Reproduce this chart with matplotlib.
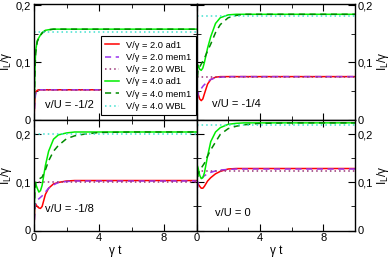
import matplotlib
matplotlib.use("Agg")
import matplotlib.pyplot as plt
from matplotlib.ticker import MultipleLocator, FuncFormatter

plt.rcParams['font.family'] = ['Liberation Sans', 'DejaVu Sans']

# time grid shared by all curves
t = [0, 0.05, 0.1, 0.2, 0.3, 0.4, 0.5, 0.7, 0.9, 1.2, 1.5, 2, 2.5, 3, 4, 6, 10]

panel_titles = ["v/U = -1/2", "v/U = -1/4", "v/U = -1/8", "v/U = 0"]

# v/U = -1/2
p1_ad1_v2 = [0, 0.035, 0.048, 0.051, 0.052, 0.052, 0.052, 0.052, 0.052, 0.052, 0.052, 0.052, 0.052, 0.052, 0.052, 0.052, 0.052]
p1_mem_v2 = [0, 0.030, 0.045, 0.050, 0.051, 0.052, 0.052, 0.052, 0.052, 0.052, 0.052, 0.052, 0.052, 0.052, 0.052, 0.052, 0.052]
p1_ad1_v4 = [0, 0.080, 0.120, 0.138, 0.143, 0.148, 0.152, 0.156, 0.157, 0.158, 0.158, 0.158, 0.158, 0.158, 0.158, 0.158, 0.158]
p1_mem_v4 = [0, 0.075, 0.115, 0.136, 0.142, 0.147, 0.151, 0.155, 0.157, 0.158, 0.158, 0.158, 0.158, 0.158, 0.158, 0.158, 0.158]
p1_wbl = [0.051, 0.153]

# v/U = -1/4
p2_ad1_v2 = [0, 0.050, 0.045, 0.036, 0.033, 0.036, 0.045, 0.062, 0.070, 0.074, 0.075, 0.075, 0.075, 0.075, 0.075, 0.075, 0.075]
p2_mem_v2 = [0, 0.030, 0.045, 0.050, 0.054, 0.058, 0.061, 0.066, 0.070, 0.073, 0.074, 0.075, 0.075, 0.075, 0.075, 0.075, 0.075]
p2_ad1_v4 = [0, 0.090, 0.095, 0.088, 0.086, 0.090, 0.100, 0.125, 0.145, 0.168, 0.178, 0.183, 0.184, 0.184, 0.184, 0.184, 0.184]
p2_mem_v4 = [0, 0.070, 0.088, 0.092, 0.097, 0.102, 0.107, 0.120, 0.132, 0.152, 0.166, 0.178, 0.182, 0.184, 0.184, 0.184, 0.184]
p2_wbl = [0.074, 0.181]

# v/U = -1/8
p3_ad1_v2 = [0, 0.056, 0.055, 0.050, 0.047, 0.046, 0.050, 0.075, 0.088, 0.097, 0.100, 0.103, 0.104, 0.104, 0.104, 0.104, 0.104]
p3_mem_v2 = [0, 0.040, 0.058, 0.063, 0.066, 0.069, 0.072, 0.080, 0.088, 0.095, 0.100, 0.102, 0.103, 0.103, 0.103, 0.103, 0.103]
p3_ad1_v4 = [0, 0.100, 0.097, 0.088, 0.080, 0.083, 0.094, 0.135, 0.165, 0.190, 0.199, 0.203, 0.205, 0.205, 0.205, 0.205, 0.205]
p3_mem_v4 = [0, 0.080, 0.098, 0.104, 0.107, 0.109, 0.111, 0.126, 0.145, 0.165, 0.177, 0.191, 0.197, 0.200, 0.204, 0.205, 0.205]
p3_wbl = [0.100, 0.200]

# v/U = 0
p4_ad1_v2 = [0, 0.098, 0.097, 0.092, 0.088, 0.088, 0.092, 0.103, 0.110, 0.118, 0.123, 0.128, 0.129, 0.129, 0.129, 0.129, 0.129]
p4_mem_v2 = [0, 0.080, 0.100, 0.106, 0.108, 0.111, 0.114, 0.118, 0.121, 0.124, 0.126, 0.127, 0.128, 0.128, 0.128, 0.128, 0.128]
p4_ad1_v4 = [0, 0.135, 0.130, 0.115, 0.108, 0.110, 0.120, 0.155, 0.185, 0.205, 0.214, 0.221, 0.223, 0.224, 0.224, 0.224, 0.224]
p4_mem_v4 = [0, 0.100, 0.118, 0.125, 0.130, 0.135, 0.140, 0.155, 0.168, 0.184, 0.200, 0.212, 0.217, 0.220, 0.223, 0.224, 0.224]
p4_wbl = [0.123, 0.219]

panels = [
    (p1_ad1_v2, p1_mem_v2, p1_ad1_v4, p1_mem_v4, p1_wbl),
    (p2_ad1_v2, p2_mem_v2, p2_ad1_v4, p2_mem_v4, p2_wbl),
    (p3_ad1_v2, p3_mem_v2, p3_ad1_v4, p3_mem_v4, p3_wbl),
    (p4_ad1_v2, p4_mem_v2, p4_ad1_v4, p4_mem_v4, p4_wbl),
]

fig = plt.figure(figsize=(3.9, 2.57), dpi=100)
L, M, R = 34 / 390, 196.5 / 390, 355 / 390
T, MID, B = 1 - 4 / 257, 1 - 119.5 / 257, 1 - 230.5 / 257
rects = [
    [L, MID, M - L, T - MID],
    [M, MID, R - M, T - MID],
    [L, B, M - L, MID - B],
    [M, B, R - M, MID - B],
]
ylims = [0.202, 0.202, 0.231, 0.231]
text_pos = [(0.07, 0.125), (0.1, 0.134), (0.07, 0.19), (0.117, 0.16)]

comma = FuncFormatter(lambda v, p: "0" if abs(v) < 1e-9 else ("%.1f" % v).replace(".", ","))

for i, (rect, data) in enumerate(zip(rects, panels)):
    ad1_v2, mem_v2, ad1_v4, mem_v4, wbl = data
    ax = fig.add_axes(rect)
    ax.plot(t, ad1_v2, color='#ff0000', lw=1.1, label="V/γ = 2.0 ad1")
    ax.plot(t, mem_v2, color='#9933ee', lw=1.1, ls=(0, (4, 3)), label="V/γ = 2.0 mem1")
    ax.plot([0, 10], [wbl[0], wbl[0]], color='#993377', lw=1.1, ls=(0, (1, 2)), label="V/γ = 2.0 WBL")
    ax.plot(t, ad1_v4, color='#00ee00', lw=1.1, label="V/γ = 4.0 ad1")
    ax.plot(t, mem_v4, color='#008b00', lw=1.1, ls=(0, (4, 3)), label="V/γ = 4.0 mem1")
    ax.plot([0, 10], [wbl[1], wbl[1]], color='#40e0d0', lw=1.1, ls=(0, (1, 2)), label="V/γ = 4.0 WBL")
    ax.set_xlim(0, 10)
    ax.set_ylim(0, ylims[i])
    ax.xaxis.set_major_locator(MultipleLocator(4))
    ax.xaxis.set_minor_locator(MultipleLocator(2))
    ax.yaxis.set_major_locator(MultipleLocator(0.1))
    ax.yaxis.set_minor_locator(MultipleLocator(0.05))
    ax.yaxis.set_major_formatter(comma)
    ax.tick_params(which='both', direction='in', top=True, right=True, labelsize=8, pad=2)
    ax.tick_params(which='major', length=5)
    ax.tick_params(which='minor', length=3)
    for s in ax.spines.values():
        s.set_linewidth(1.0)
    if i < 2:
        ax.tick_params(labelbottom=False)
    else:
        ax.set_xlabel("γ t", fontsize=8.5, labelpad=1)
    if i % 2 == 1:
        ax.tick_params(labelleft=False, labelright=True)
        ax.yaxis.set_label_position('right')
    ax.set_ylabel(r"I$_\mathrm{L}$/γ", fontsize=8.5, labelpad=1)
    ax.text(text_pos[i][0], text_pos[i][1], panel_titles[i], transform=ax.transAxes,
            fontsize=8, va='center', ha='left')
    if i == 0:
        leg = ax.legend(loc='upper right', bbox_to_anchor=(0.995, 0.72), fontsize=6.7,
                        frameon=True, fancybox=False, borderaxespad=0, handlelength=1.5,
                        handletextpad=0.8, labelspacing=0.35, borderpad=0.45)
        leg.get_frame().set_edgecolor('black')
        leg.get_frame().set_linewidth(0.8)
        leg.get_frame().set_alpha(1)

fig.savefig("out.png", dpi=100)
